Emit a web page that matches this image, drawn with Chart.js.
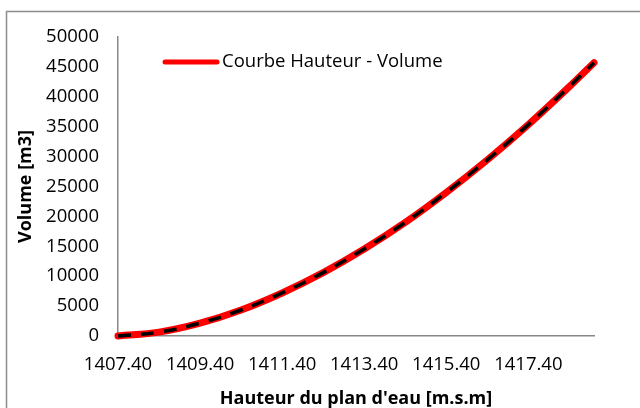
<!DOCTYPE html>
<html>
<head>
<meta charset="utf-8">
<script src="https://cdn.jsdelivr.net/npm/chart.js@4/dist/chart.umd.min.js"></script>
<style>
  html, body { margin: 0; padding: 0; background: #fff; }
  #wrap { width: 640px; height: 408px; }
</style>
</head>
<body>
<div id="wrap"><canvas id="c" width="640" height="408"></canvas></div>
<script>
// ---- data ----
const heights = [1407.4, 1408.4, 1409.4, 1410.4, 1411.4, 1412.4, 1413.4, 1414.4, 1415.4, 1416.4, 1417.4, 1418.4, 1419.0];
const volumes = [0, 650, 2150, 4350, 7200, 10600, 14550, 19000, 24000, 29450, 35350, 41700, 45700];
const xTickValues = [1407.4, 1409.4, 1411.4, 1413.4, 1415.4, 1417.4];
const seriesLabel = 'Courbe Hauteur - Volume';
const xTitle = "Hauteur du plan d'eau [m.s.m]";
const yTitle = 'Volume [m3]';

const pts = heights.map((h, i) => ({ x: h, y: volumes[i] }));
const FONT = 'Open Sans';

const frame = {
  id: 'frame',
  beforeDraw(chart) {
    const ctx = chart.ctx;
    ctx.save();
    ctx.fillStyle = '#fff';
    ctx.fillRect(0, 0, chart.width, chart.height);
    ctx.strokeStyle = '#8c8c8c';
    ctx.lineWidth = 1.5;
    ctx.beginPath();
    ctx.moveTo(6.5, 420);
    ctx.lineTo(6.5, 11.5);
    ctx.lineTo(660, 11.5);
    ctx.stroke();
    ctx.restore();
  },
  afterDraw(chart) {
    const ctx = chart.ctx;
    const ds = chart.data.datasets[0];
    ctx.save();
    ctx.strokeStyle = ds.borderColor;
    ctx.lineWidth = 5;
    ctx.lineCap = 'round';
    ctx.beginPath();
    ctx.moveTo(165, 62);
    ctx.lineTo(217, 62);
    ctx.stroke();
    ctx.fillStyle = '#000';
    ctx.font = '18.5px "' + FONT + '"';
    ctx.textBaseline = 'middle';
    ctx.textAlign = 'left';
    ctx.fillText(ds.label, 222, 62);
    ctx.restore();
  }
};

new Chart(document.getElementById('c'), {
  type: 'line',
  data: {
    datasets: [
      {
        label: seriesLabel,
        data: pts,
        order: 2,
        borderColor: '#ff0000',
        borderWidth: 7,
        pointRadius: 0,
        tension: 0.4,
        borderCapStyle: 'round',
        fill: false,
        clip: false
      },
      {
        label: 'trend',
        data: pts,
        order: 1,
        borderColor: '#000000',
        borderWidth: 3.5,
        borderDash: [13, 10],
        pointRadius: 0,
        tension: 0.4,
        fill: false,
        clip: false
      }
    ]
  },
  options: {
    responsive: false,
    animation: false,
    layout: { padding: { left: 0, right: 46, top: 37, bottom: 0 } },
    plugins: { legend: { display: false }, tooltip: { enabled: false } },
    scales: {
      x: {
        type: 'linear',
        min: 1407.4,
        max: 1419.0,
        afterBuildTicks(scale) { scale.ticks = xTickValues.map(v => ({ value: v })); },
        afterFit(scale) { scale.height = 72; },
        grid: { display: false, drawTicks: false },
        border: { display: true, color: '#888', width: 1.5 },
        ticks: {
          padding: 18,
          color: '#000',
          maxRotation: 0,
          autoSkip: false,
          font: { family: FONT, size: 18.5 },
          callback: v => Number(v).toFixed(2)
        },
        title: {
          display: true,
          text: xTitle,
          color: '#000',
          font: { family: FONT, size: 18, weight: 'bold', lineHeight: 1 },
          padding: { top: 0, bottom: 0 }
        }
      },
      y: {
        min: 0,
        max: 50000,
        afterFit(scale) { scale.width = 118; },
        grid: { display: false, drawTicks: false },
        border: { display: true, color: '#888', width: 1.5 },
        ticks: {
          stepSize: 5000,
          padding: 19,
          color: '#000',
          font: { family: FONT, size: 18.5 },
          callback: v => String(v)
        },
        title: {
          display: true,
          text: yTitle,
          color: '#000',
          font: { family: FONT, size: 18, weight: 'bold', lineHeight: 1 },
          padding: { top: 17, bottom: 0 }
        }
      }
    }
  },
  plugins: [frame]
});
</script>
</body>
</html>
